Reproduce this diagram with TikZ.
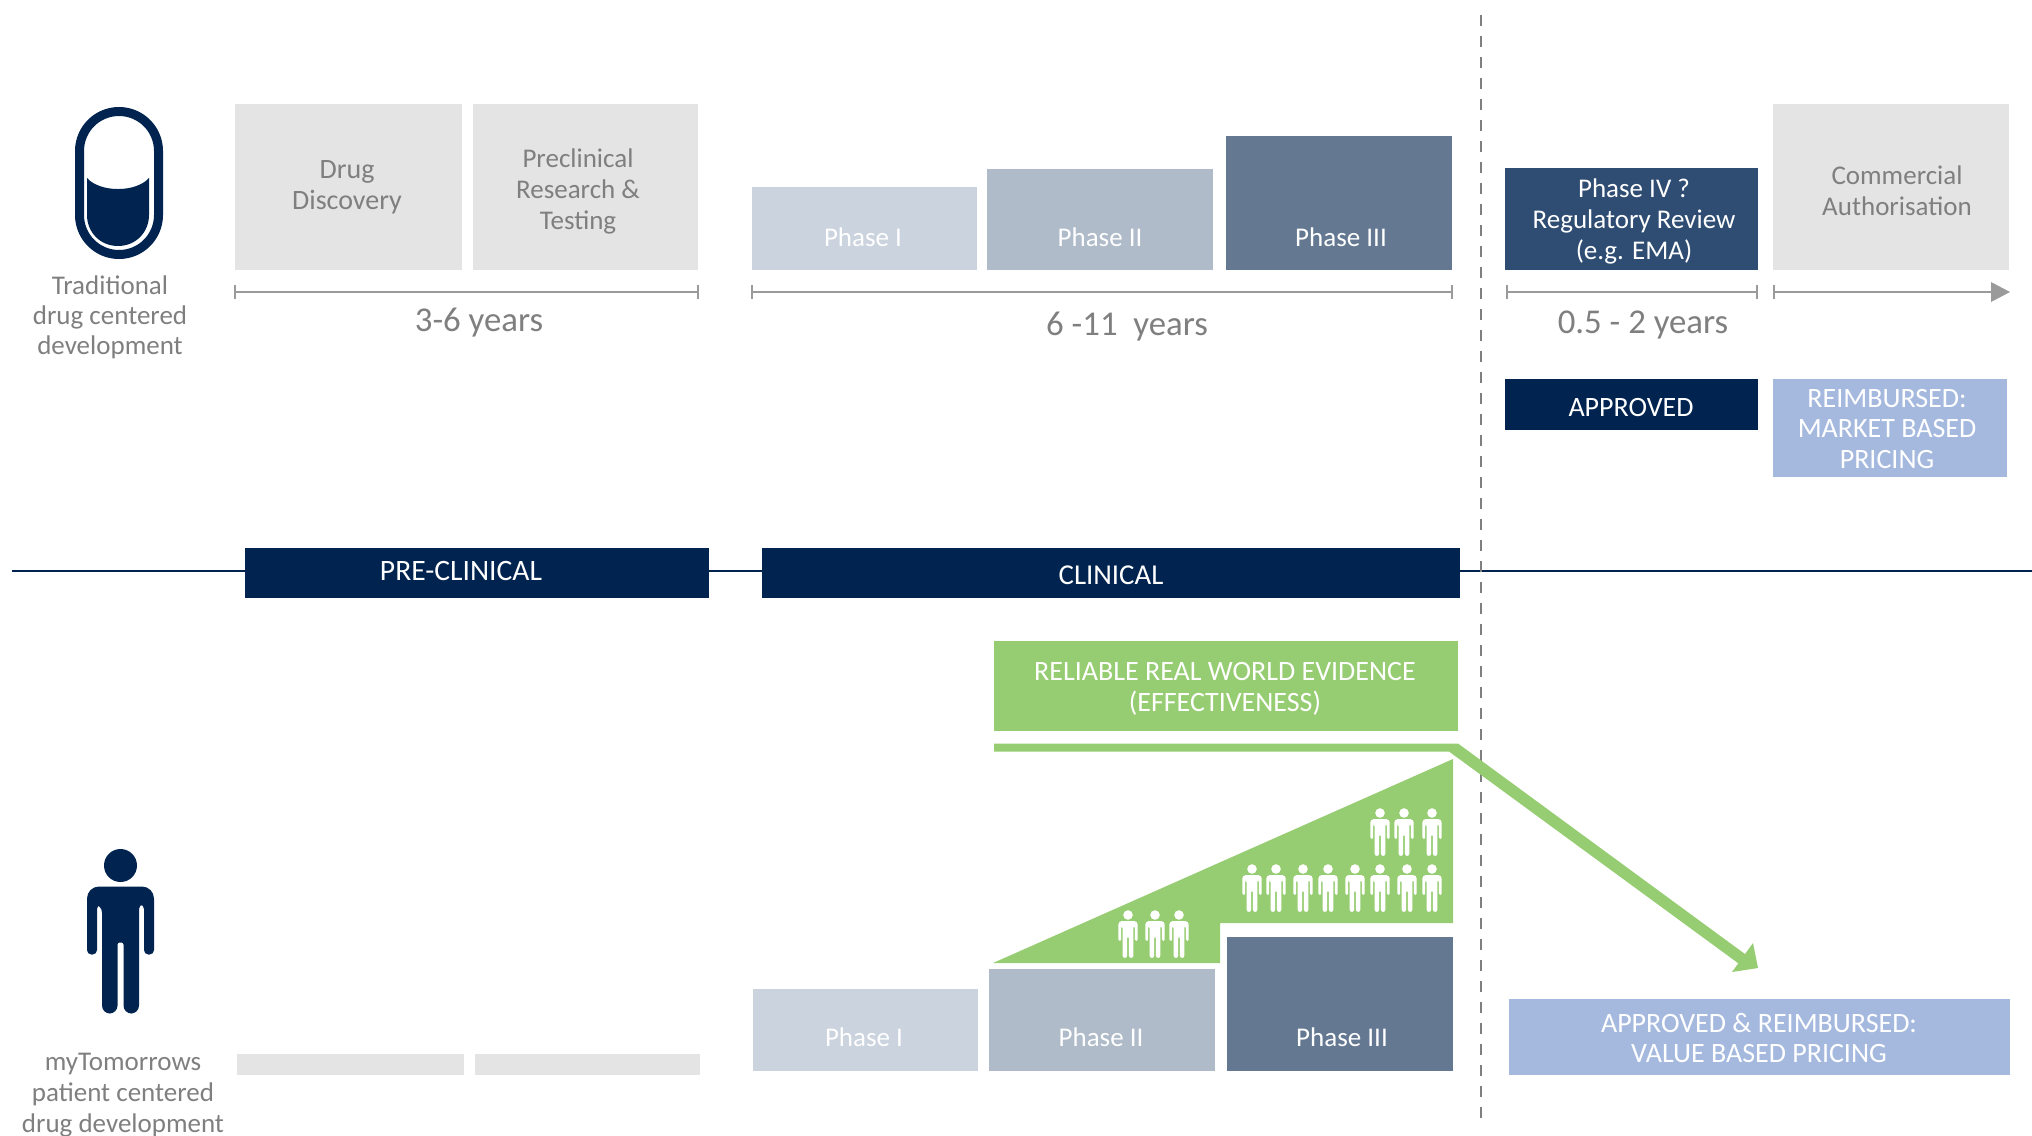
\documentclass[tikz,border=0pt]{standalone}
\usepackage{fontspec}
\setmainfont{Carlito}
\definecolor{navy}{HTML}{00234F}
\definecolor{lgrey}{HTML}{E4E4E4}
\definecolor{tgrey}{HTML}{7F7F7F}
\definecolor{lineg}{HTML}{9A9A9A}
\definecolor{ph1}{HTML}{CBD3DE}
\definecolor{ph2}{HTML}{AFBBC9}
\definecolor{ph3}{HTML}{647991}
\definecolor{ph4}{HTML}{2F4D72}
\definecolor{paleblue}{HTML}{A5B9DF}
\definecolor{grn}{HTML}{96CC72}
\tikzset{
  x=0.5pt,y=-0.5pt,
  boxn/.style={rectangle,inner sep=0pt,outer sep=0pt,anchor=north west},
  tx/.style={inner sep=0pt,align=center,font=\fontsize{13.5}{15.4}\selectfont},
  gtx/.style={tx,text=tgrey},
  wtx/.style={tx,text=white},
  capstx/.style={wtx,font=\fontsize{14}{15.4}\selectfont},
  yearstx/.style={gtx,font=\fontsize{17.4}{19}\selectfont},
  dimline/.style={draw=lineg,line width=1.35pt},
  man/.pic={
    \path[pic actions] (0,0) circle[radius=16.5];
    \path[pic actions,rounded corners=#1*2.2pt] (-18.5,39) -- (-23.5,39) -- (-23.5,89) -- (-33.5,89)
      [rounded corners=#1*6pt] -- (-33.5,21) -- (33.5,21)
      [rounded corners=#1*2.2pt] -- (33.5,89) -- (23.5,89) -- (23.5,39) -- (18.5,39)
      [rounded corners=#1*4pt] -- (18.5,148) -- (3,148)
      [rounded corners=#1*1pt] -- (3,77) -- (-3,77)
      [rounded corners=#1*4pt] -- (-3,148) -- (-18.5,148) -- cycle;
  }
}
\newcommand{\bx}[6]{\node[boxn,fill=#6,minimum width={(#4-#2)*0.5},minimum height={(#5-#3)*0.5}] (#1) at (#2,#3) {};}
\newcommand{\dimrule}[4]{%
  \coordinate (#1a) at (#2,#4); \coordinate (#1b) at (#3,#4);
  \draw[dimline] (#1a) -- (#1b);
  \draw[dimline] ([yshift=3.5pt]#1a) -- ([yshift=-3.5pt]#1a);
  \draw[dimline] ([yshift=3.5pt]#1b) -- ([yshift=-3.5pt]#1b);}
\begin{document}
\begin{tikzpicture}
\useasboundingbox (0,0) rectangle (2032,1135);
% centre rule
\coordinate (hl) at (12,571); \coordinate (hr) at (2032,571);
\draw[navy,line width=1pt] (hl) -- (hr);
% pill
\draw[navy,line width=4.5pt,rounded corners=19.75pt] (79.5,111.5) rectangle (158.5,254.5);
\fill[navy] (87,178) .. controls (100,192.7) and (136,192.7) .. (149,178) -- (149,215)
  .. controls (149,232) and (136,246) .. (118,246) .. controls (100,246) and (87,232) .. (87,215) -- cycle;
\node[gtx,font=\fontsize{13.5}{15}\selectfont] (tradtxt) at (110,317.5) {Traditional\\drug centered\\development};
% top boxes
\bx{dd}{234.5}{104}{461.5}{270}{lgrey}
\node[gtx,font=\fontsize{14}{15.4}\selectfont] at (347,187) {Drug\\Discovery};
\bx{pr}{473}{104}{698}{270}{lgrey}
\node[gtx] at (578,191.5) {Preclinical\\Research \&\\Testing};
\bx{pa}{752}{187}{977}{270}{ph1}
\node[wtx] at (863,237.5) {Phase I};
\bx{pb}{987}{169}{1213}{270}{ph2}
\node[wtx] at (1100,237.5) {Phase II};
\bx{pc}{1226}{136}{1452}{270}{ph3}
\node[wtx] at (1341,237.5) {Phase III};
\bx{pd}{1505}{168}{1758}{270}{ph4}
\node[wtx] at (1634,221.5) {Phase IV ?\\Regulatory Review\\(e.g. EMA)};
\bx{ca}{1773}{104}{2009}{270}{lgrey}
\node[gtx] at (1897,190.5) {Commercial\\Authorisation};
% timelines
\dimrule{t1}{235}{698}{292}
\dimrule{t2}{752}{1452}{292}
\dimrule{t3}{1507}{1757}{292}
\coordinate (t4a) at (1774,292); \coordinate (t4b) at (1991,292); \coordinate (t4c) at (2010,292);
\draw[dimline] (t4a) -- (t4b);
\draw[dimline] ([yshift=3.5pt]t4a) -- ([yshift=-3.5pt]t4a);
\fill[lineg] (1991,282) -- (t4c) -- (1991,302) -- cycle;
\node[yearstx] at (479,323) {3-6 years};
\node[yearstx] at (1127,326.5) {6 -11~ years};
\node[yearstx] at (1643,325.5) {0.5 - 2 years};
% status
\bx{ap}{1505}{379}{1758}{430}{navy}
\node[capstx] at (1631,408) {APPROVED};
\bx{re}{1773}{379}{2007}{477}{paleblue}
\node[capstx] at (1887,429) {REIMBURSED:\\MARKET BASED\\PRICING};
% bands
\bx{pc1}{245}{548}{709}{598}{navy}
\node[wtx,font=\fontsize{14.8}{16}\selectfont] at (461,571) {PRE-CLINICAL};
\bx{pc2}{762}{548}{1460}{598}{navy}
\node[wtx,font=\fontsize{14.4}{16}\selectfont] at (1111,575) {CLINICAL};
% evidence
\bx{ev}{994}{641}{1458}{731}{grn}
\node[capstx] at (1225,689) {RELIABLE REAL WORLD EVIDENCE\\(EFFECTIVENESS)};
% triangle
\fill[grn] (993,963) -- (1453,759) -- (1453,923) -- (1220,923) -- (1220,963) -- cycle;
\foreach \px/\py in {1380/813,1404/813,1432/813,
  1252/869,1276/869,1303/869,1328/869,1355/869,1380/869,1407/869,1432/869,
  1128/915,1155/915,1179/915}
  \pic[fill=white,scale=0.29] at (\px,\py) {man=0.29};
% lower boxes
\bx{la}{753}{989}{978}{1071}{ph1}
\node[wtx] at (864,1037.5) {Phase I};
\bx{lb}{989}{969}{1215}{1071}{ph2}
\node[wtx] at (1101,1037.5) {Phase II};
\bx{lc}{1227}{937}{1453}{1071}{ph3}
\node[wtx] at (1342,1037.5) {Phase III};
\bx{g1}{237}{1054}{464}{1075}{lgrey}
\bx{g2}{475}{1054}{700}{1075}{lgrey}
\bx{vb}{1509}{999}{2010}{1075}{paleblue}
\node[capstx] at (1759,1038) {APPROVED \& REIMBURSED:\\VALUE BASED PRICING};
% person
\pic[fill=navy] at (120.5,865.5) {man=1};
\node[gtx] (mytxt) at (123,1095) {myTomorrows\\patient centered\\drug development};
% divider
\coordinate (dv1) at (1480.5,15); \coordinate (dv2) at (1480.5,1120);
\draw[tgrey,line width=1pt,dash pattern=on 5.5pt off 5pt] (dv1) -- (dv2);
% green arrow
\coordinate (g0a) at (994,743.5); \coordinate (g0b) at (994,751.5);
\coordinate (g1a) at (1458,743.5); \coordinate (g1b) at (1449,751.5);
\coordinate (g2a) at (1749,957); \coordinate (g2b) at (1742,966);
\fill[grn] (g0a) -- (g1a) -- (g2a) -- (g2b) -- (g1b) -- (g0b) -- cycle;
\fill[grn] (1758,968) -- (1753,943) -- (1732,972) -- cycle;
\end{tikzpicture}
\end{document}
